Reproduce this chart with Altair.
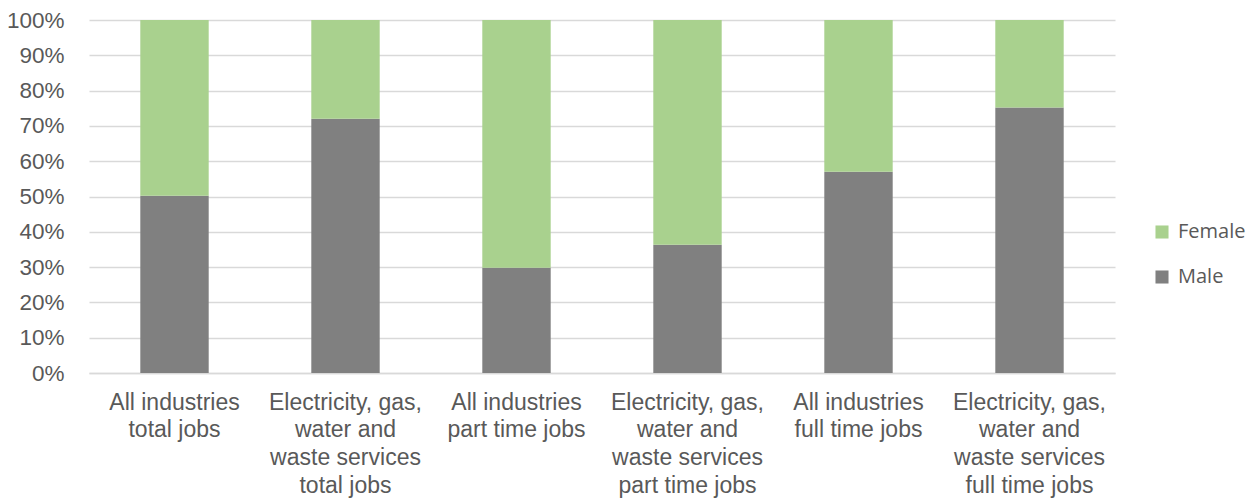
import altair as alt
import pandas as pd

categories = [
    "All industries|total jobs",
    "Electricity, gas,|water and|waste services|total jobs",
    "All industries|part time jobs",
    "Electricity, gas,|water and|waste services|part time jobs",
    "All industries|full time jobs",
    "Electricity, gas,|water and|waste services|full time jobs",
]
male = [50.2, 72.0, 29.8, 36.3, 57.0, 75.2]
female = [49.8, 28.0, 70.2, 63.7, 43.0, 24.8]
series = ["Female", "Male"]
colors = ["#A9D18E", "#808080"]

rows = []
for c, m, f in zip(categories, male, female):
    rows.append({"category": c, "sex": "Male", "value": m / 100, "ord": 0})
    rows.append({"category": c, "sex": "Female", "value": f / 100, "ord": 1})
df = pd.DataFrame(rows)

chart = (
    alt.Chart(df)
    .mark_bar()
    .encode(
        x=alt.X(
            "category:N",
            sort=categories,
            scale=alt.Scale(paddingInner=0.6, paddingOuter=0.3),
            axis=alt.Axis(
                title=None,
                labelExpr="split(datum.label, '|')",
                labelAngle=0,
                labelFont="Liberation Sans",
                labelFontSize=23,
                labelColor="#595959",
                labelLineHeight=27.8,
                labelPadding=18,
                labelBaseline="top",
                labelLimit=300,
                ticks=False,
                domainColor="#D9D9D9",
                domainWidth=1.5,
                grid=False,
            ),
        ),
        y=alt.Y(
            "value:Q",
            stack="zero",
            scale=alt.Scale(domain=[0, 1], nice=False),
            axis=alt.Axis(
                title=None,
                format=".0%",
                values=[i / 10 for i in range(11)],
                labelFont="Liberation Sans",
                labelFontSize=22.5,
                labelColor="#595959",
                labelPadding=25,
                ticks=False,
                domain=False,
                gridColor="#D9D9D9",
                gridWidth=1.5,
            ),
        ),
        color=alt.Color(
            "sex:N",
            scale=alt.Scale(domain=series, range=colors),
            legend=alt.Legend(
                title=None,
                orient="none",
                legendX=1063,
                legendY=202,
                symbolType="square",
                symbolSize=170,
                symbolStrokeWidth=0,
                labelFont="Open Sans",
                labelFontSize=20,
                labelColor="#595959",
                rowPadding=25,
                labelOffset=6,
            ),
        ),
        order=alt.Order("ord:Q", sort="ascending"),
    )
    .properties(
        width=1026,
        height=353,
        autosize=alt.AutoSizeParams(type="none"),
        padding={"left": 89, "top": 20, "right": 141, "bottom": 129},
    )
    .configure_view(stroke=None)
)

chart.save("out.html", embed_options={"renderer": "svg", "actions": False})
